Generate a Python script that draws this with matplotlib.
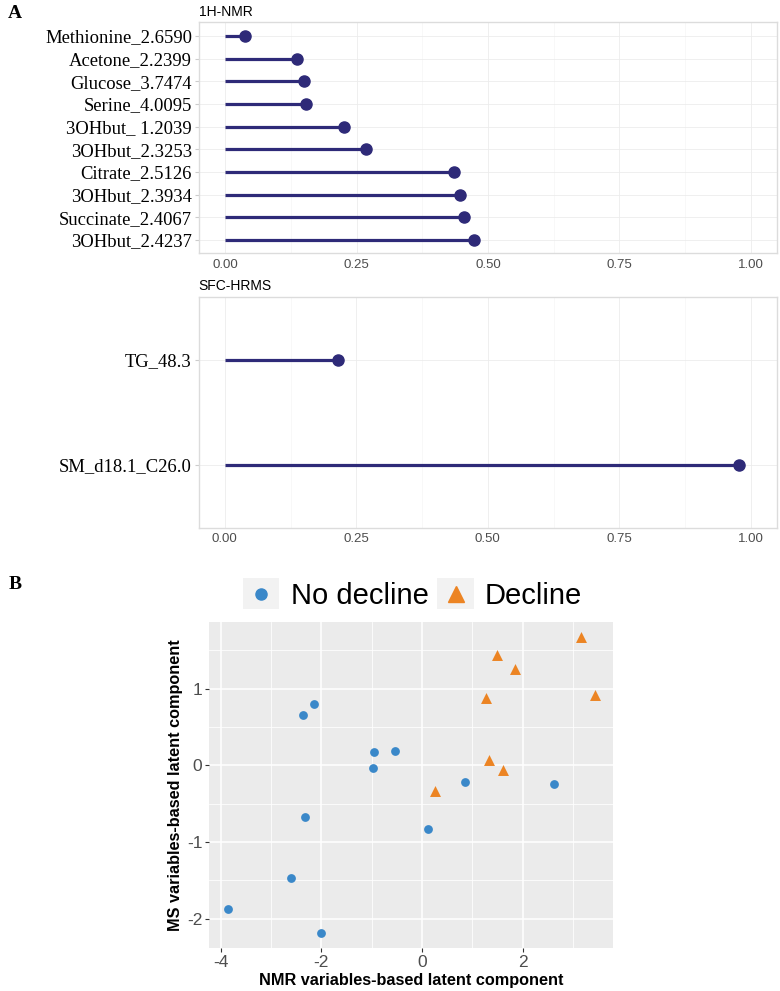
import matplotlib
matplotlib.use("Agg")
import matplotlib.pyplot as plt
from matplotlib.legend_handler import HandlerBase
from matplotlib.lines import Line2D
from matplotlib.patches import Rectangle
from matplotlib.ticker import MultipleLocator
import numpy as np

###############################################################################
# Data
###############################################################################

nmr_labels = ["Methionine_2.6590", "Acetone_2.2399", "Glucose_3.7474",
              "Serine_4.0095", "3OHbut_ 1.2039", "3OHbut_2.3253",
              "Citrate_2.5126", "3OHbut_2.3934", "Succinate_2.4067",
              "3OHbut_2.4237"]
nmr_values = [0.038, 0.137, 0.149, 0.153, 0.226, 0.268, 0.435, 0.447,
              0.454, 0.473]

ms_labels = ["TG_48.3", "SM_d18.1_C26.0"]
ms_values = [0.215, 0.977]

no_decline_x = [-2.36, -2.15, -0.96, -0.54, -0.98, -2.32, -2.60, -3.86,
                -2.01, 0.86, 0.125, 2.63]
no_decline_y = [0.65, 0.80, 0.17, 0.19, -0.035, -0.675, -1.47, -1.87,
                -2.19, -0.225, -0.835, -0.24]
decline_x = [3.15, 1.49, 1.84, 3.43, 1.27, 1.33, 1.60, 0.26]
decline_y = [1.675, 1.44, 1.25, 0.92, 0.87, 0.065, -0.065, -0.34]

###############################################################################
# Style
###############################################################################

SANS = "Liberation Sans"
SERIF = "Liberation Serif"
LOLLI = "#2e2a78"
BLUE = "#3a88c9"
ORANGE = "#ec8423"

plt.rcParams["font.family"] = SANS


def lollipop(ax, labels, values, title):
    """ggplot theme_light-like lollipop panel"""
    n = len(labels)
    pos = np.arange(n)[::-1] + 1
    ax.hlines(pos, 0, values, color=LOLLI, linewidth=2.3, zorder=3)
    ax.plot(values, pos, "o", color=LOLLI, markersize=8, zorder=4)

    ax.set_xlim(-0.05, 1.05)
    ax.set_ylim(0.4, n + 0.6)
    ax.set_yticks(pos, labels=labels, fontfamily=SERIF, fontsize=13.4,
                  color="black")
    ax.xaxis.set_major_locator(MultipleLocator(0.25))
    ax.xaxis.set_minor_locator(MultipleLocator(0.125))
    ax.xaxis.set_major_formatter(lambda v, p: f"{v:.2f}")
    ax.tick_params(axis="x", which="both", length=0, labelsize=9.5,
                   labelcolor="#4d4d4d", pad=4)
    ax.tick_params(axis="y", length=3, color="#cccccc", pad=2)
    ax.grid(True, which="major", color="#ececec", linewidth=0.6)
    ax.grid(True, which="minor", axis="x", color="#f4f4f4", linewidth=0.4)
    ax.set_axisbelow(True)
    for s in ax.spines.values():
        s.set_color("#dcdcdc")
        s.set_linewidth(1.0)
    ax.set_title(title, loc="left", fontsize=10, pad=5, x=0.0)


class KeyHandler(HandlerBase):
    """Legend key with grey95 background like ggplot"""

    def create_artists(self, legend, orig_handle, xdescent, ydescent,
                       width, height, fontsize, trans):
        rect = Rectangle((-xdescent, -ydescent), width, height,
                         facecolor="#f2f2f2", edgecolor="none",
                         transform=trans)
        mark = Line2D([width / 2 - xdescent], [height / 2 - ydescent],
                      marker=orig_handle.get_marker(),
                      color=orig_handle.get_color(),
                      markersize=orig_handle.get_markersize(),
                      linestyle="none", transform=trans)
        return [rect, mark]


###############################################################################
# Figure
###############################################################################

fig = plt.figure(figsize=(7.8, 9.91), dpi=100)

ax1 = fig.add_axes([0.2551, 0.7442, 0.7411, 0.2331])
lollipop(ax1, nmr_labels, nmr_values, "1H-NMR")

ax2 = fig.add_axes([0.2545, 0.4677, 0.7417, 0.2326])
lollipop(ax2, ms_labels, ms_values, "SFC-HRMS")

ax3 = fig.add_axes([0.2683, 0.0434, 0.5176, 0.3290])
ax3.set_facecolor("#ebebeb")
ax3.scatter(no_decline_x, no_decline_y, marker="o", s=40, color=BLUE,
            linewidths=0, zorder=3)
ax3.scatter(decline_x, decline_y, marker="^", s=62, color=ORANGE,
            linewidths=0, zorder=3)
ax3.set_xlim(-4.225, 3.795)
ax3.set_ylim(-2.383, 1.868)
ax3.xaxis.set_major_locator(MultipleLocator(2))
ax3.xaxis.set_minor_locator(MultipleLocator(1))
ax3.yaxis.set_major_locator(MultipleLocator(1))
ax3.yaxis.set_minor_locator(MultipleLocator(0.5))
ax3.grid(True, which="major", color="white", linewidth=1.1)
ax3.grid(True, which="minor", color="white", linewidth=0.55)
ax3.set_axisbelow(True)
for s in ax3.spines.values():
    s.set_visible(False)
ax3.tick_params(axis="both", which="major", length=3, color="#333333",
                labelsize=12.5, labelcolor="#4d4d4d", pad=2)
ax3.tick_params(axis="both", which="minor", length=0)
ax3.xaxis.set_major_formatter(lambda v, p: f"{v:.0f}")
ax3.yaxis.set_major_formatter(lambda v, p: f"{v:.0f}")
ax3.set_xlabel("NMR variables-based latent component", fontsize=11.7,
               fontweight="bold", labelpad=2)
ax3.set_ylabel("MS variables-based latent component", fontsize=11.7,
               fontweight="bold", labelpad=3)

handles = [
    Line2D([], [], marker="o", color=BLUE, markersize=8, linestyle="none"),
    Line2D([], [], marker="^", color=ORANGE, markersize=11, linestyle="none"),
]
fig.legend(handles, ["No decline", "Decline"], loc="center",
           bbox_to_anchor=(0.529, 0.4006), ncol=2, frameon=False,
           fontsize=21, handlelength=1.24, handleheight=1.24,
           handletextpad=0.39, columnspacing=0.31, borderpad=0,
           handler_map={Line2D: KeyHandler()})

# Panel labels
fig.text(0.019, 0.986, "A", fontfamily=SERIF, fontweight="bold",
         fontsize=14, ha="center", va="center")
fig.text(0.019, 0.410, "B", fontfamily=SERIF, fontweight="bold",
         fontsize=14, ha="center", va="center")

fig.savefig("out.png", dpi=100)
